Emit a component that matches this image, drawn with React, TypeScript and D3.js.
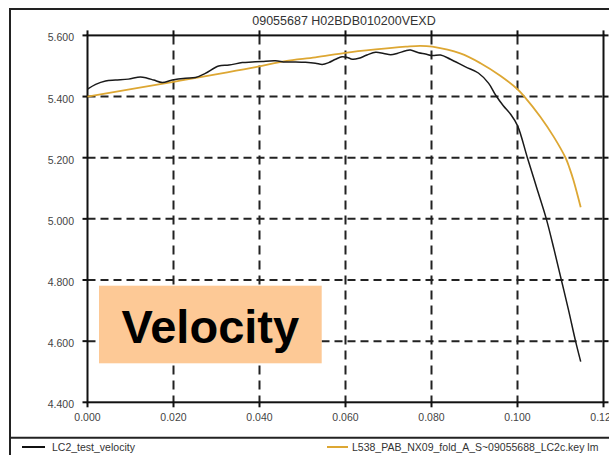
import React from "react";
import * as d3 from "d3";

const TITLE = "09055687 H02BDB010200VEXD";
const xTicks = [0, 0.02, 0.04, 0.06, 0.08, 0.1, 0.12];
const yTicks = [4.4, 4.6, 4.8, 5.0, 5.2, 5.4, 5.6];

const blackX = [0.0000, 0.0019, 0.0042, 0.0065, 0.0095, 0.0123, 0.0139, 0.0154, 0.0174, 0.0197, 0.0228, 0.0251, 0.0274, 0.0305, 0.0329, 0.0360, 0.0383, 0.0406, 0.0437, 0.0460, 0.0484, 0.0507, 0.0530, 0.0546, 0.0561, 0.0577, 0.0592, 0.0604, 0.0616, 0.0631, 0.0650, 0.0670, 0.0689, 0.0705, 0.0720, 0.0740, 0.0751, 0.0770, 0.0786, 0.0802, 0.0821, 0.0844, 0.0879, 0.0909, 0.0933, 0.0949, 0.0967, 0.0984, 0.1000, 0.1023, 0.1045, 0.1067, 0.1085, 0.1102, 0.1119, 0.1135, 0.1147];
const blackY = [5.424, 5.440, 5.451, 5.454, 5.457, 5.464, 5.460, 5.454, 5.446, 5.454, 5.460, 5.462, 5.476, 5.500, 5.503, 5.511, 5.513, 5.515, 5.517, 5.513, 5.513, 5.512, 5.509, 5.505, 5.511, 5.522, 5.530, 5.528, 5.522, 5.525, 5.536, 5.545, 5.541, 5.537, 5.541, 5.550, 5.552, 5.543, 5.539, 5.534, 5.536, 5.522, 5.497, 5.477, 5.443, 5.405, 5.370, 5.342, 5.305, 5.200, 5.100, 5.000, 4.900, 4.800, 4.700, 4.600, 4.533];

const orangeX = [0, 0.0200, 0.0391, 0.0460, 0.0530, 0.0600, 0.0670, 0.0740, 0.0774, 0.0802, 0.0867, 0.0914, 0.0960, 0.1000, 0.1016, 0.1053, 0.1084, 0.1112, 0.1121, 0.1130, 0.1147];
const orangeY = [5.400, 5.448, 5.496, 5.516, 5.528, 5.543, 5.554, 5.563, 5.566, 5.563, 5.541, 5.509, 5.468, 5.424, 5.400, 5.334, 5.269, 5.199, 5.166, 5.127, 5.038];

const legendNames = ["LC2_test_velocity", "L538_PAB_NX09_fold_A_S~09055688_LC2c.key lm"];
const LABEL = "Velocity";

const W = 609, H = 455;
const L = 87.5, R = 603.5, T = 35.4, B = 402.3;
const FONT = "'Liberation Sans', Arial, sans-serif";

export default function App() {
  const x = d3.scaleLinear().domain([0, 0.12]).range([L, R]);
  const y = d3.scaleLinear().domain([4.4, 5.6]).range([B, T]);
  const fmt = d3.format(".3f");
  const line = d3.line<number>().curve(d3.curveCatmullRom.alpha(0.5));
  const blackPath = line(blackX.map((v, i) => [x(v), y(blackY[i])]) as any);
  const orangePath = line(orangeX.map((v, i) => [x(v), y(orangeY[i])]) as any);
  const gridX = xTicks.slice(1, -1);
  const gridY = yTicks.slice(1, -1);
  return (
    <svg width={W} height={H} style={{ position: "absolute", left: 0, top: 0, background: "#fff" }} fontFamily={FONT}>
      <rect x={0} y={0} width={W} height={H} fill="#fff" />
      <rect x={10} y={9} width={700} height={600} fill="none" stroke="#222" strokeWidth={2} />
      <line x1={10} x2={W} y1={437.7} y2={437.7} stroke="#222" strokeWidth={2} />
      <text x={344} y={25} textAnchor="middle" fontSize={12.5} fill="#333">{TITLE}</text>
      {gridX.map((t) => (
        <line key={"gx" + t} x1={x(t)} x2={x(t)} y1={T} y2={B} stroke="#222" strokeWidth={2} strokeDasharray="9,6" />
      ))}
      {gridY.map((t) => (
        <line key={"gy" + t} x1={L} x2={R} y1={y(t)} y2={y(t)} stroke="#222" strokeWidth={2} strokeDasharray="8,5" />
      ))}
      <rect x={L} y={T} width={R - L} height={B - T} fill="none" stroke="#111" strokeWidth={2} />
      {xTicks.map((t) => (
        <g key={"xt" + t}>
          <line x1={x(t)} x2={x(t)} y1={B} y2={B + 5} stroke="#111" strokeWidth={2} />
          <line x1={x(t)} x2={x(t)} y1={T - 5} y2={T} stroke="#111" strokeWidth={2} />
          <text x={x(t)} y={B + 18.5} textAnchor="middle" fontSize={10.5} fill="#444">{fmt(t)}</text>
        </g>
      ))}
      {yTicks.map((t) => (
        <g key={"yt" + t}>
          <line x1={L - 5} x2={L} y1={y(t)} y2={y(t)} stroke="#111" strokeWidth={2} />
          <line x1={R} x2={R + 5} y1={y(t)} y2={y(t)} stroke="#111" strokeWidth={2} />
          <text x={74} y={y(t) + 6} textAnchor="end" fontSize={10.5} fill="#444">{fmt(t)}</text>
        </g>
      ))}
      <path d={orangePath || ""} fill="none" stroke="#DDA733" strokeWidth={1.8} />
      <path d={blackPath || ""} fill="none" stroke="#1a1a1a" strokeWidth={1.5} />
      <rect x={99} y={285.7} width={222.7} height={77.6} fill="#FDC996" />
      <text x={210.3} y={342.7} textAnchor="middle" fontSize={47} fontWeight="bold" fill="#000">{LABEL}</text>
      <line x1={22} x2={45} y1={447} y2={447} stroke="#111" strokeWidth={2} />
      <text x={52} y={451} fontSize={10.5} fill="#333">{legendNames[0]}</text>
      <line x1={327} x2={348} y1={447} y2={447} stroke="#DDA733" strokeWidth={2} />
      <text x={352} y={451} fontSize={10.5} fill="#333">{legendNames[1]}</text>
    </svg>
  );
}
